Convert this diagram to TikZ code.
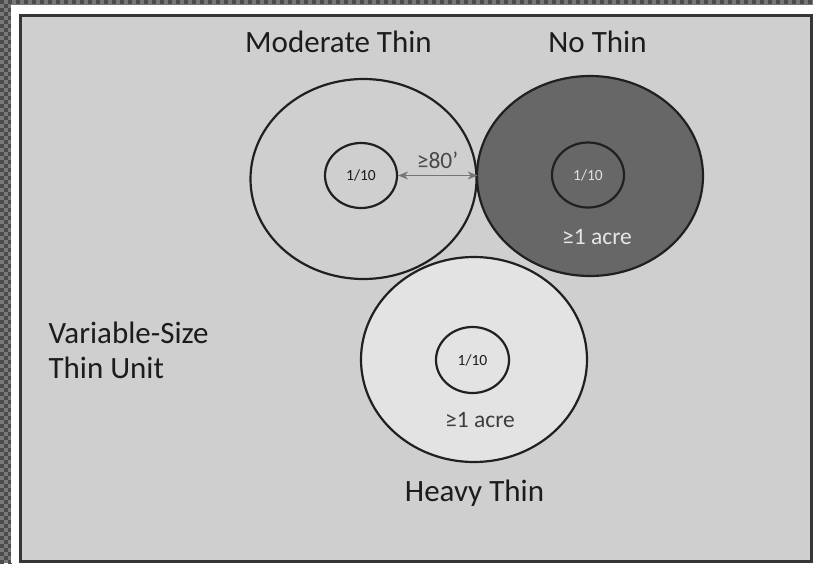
\documentclass[tikz,border=0pt]{standalone}
\usepackage{fontspec}
\setmainfont{Carlito}
\usetikzlibrary{shapes.geometric,arrows.meta}
\definecolor{bgpanel}{HTML}{CFCFCF}
\definecolor{darkfill}{HTML}{676767}
\definecolor{lightfill}{HTML}{E3E3E3}
\definecolor{ring}{HTML}{202020}
\definecolor{inktext}{HTML}{1C1C1C}
\definecolor{arrowgray}{HTML}{757575}
\definecolor{checkA}{HTML}{787878}
\definecolor{checkB}{HTML}{4C4C4C}
\tikzset{
  outerring/.style={ellipse, draw=ring, line width=2.2pt, inner sep=0pt, minimum width=226pt, minimum height=200pt},
  innerring/.style={ellipse, draw=ring, line width=2.2pt, inner sep=0pt, minimum width=72pt, minimum height=65pt},
  plotlabel/.style={font=\fontsize{15.5}{18}\selectfont, text=inktext},
  acrelabel/.style={font=\fontsize{23.5}{28}\selectfont},
  title/.style={font=\fontsize{31}{37}\selectfont, text=inktext},
  gaparrow/.style={{Stealth[length=10pt,width=8pt]}-{Stealth[length=10pt,width=8pt]}, draw=arrowgray, line width=1.4pt},
  checker/.style={fill=checkB}
}
\begin{document}
\begin{tikzpicture}[x=1pt,y=-1pt]
\useasboundingbox (0,0) rectangle (813,563);
% outer checkered frame
\fill[checkA] (0,0) rectangle (813,563);
\foreach \i in {0,...,2}{
  \foreach \j in {0,...,140}{
    \pgfmathtruncatemacro{\chkpar}{mod(\i+\j,2)}
    \ifnum\chkpar=0 \fill[checker] (\i*4,\j*4) rectangle ++(4,4);\fi
  }
}
\foreach \i in {3,...,203}{
  \pgfmathtruncatemacro{\chkpar}{mod(\i,2)}
  \ifnum\chkpar=0 \fill[checker] (\i*4,0) rectangle ++(4,4);\fi
}
\fill[white] (11,4.5) rectangle (813,563);
% panel
\fill[bgpanel] (19,14) rectangle (813,563);
\draw[ring!90, line width=3pt] (20.5,15.5) rectangle (811.5,561.5);
% circles
\node[outerring] (mo) at (363.5,179) {};
\node[outerring, fill=darkfill] (no) at (590,176) {};
\node[outerring, fill=lightfill, minimum height=205pt] (ho) at (474,359.5) {};
\node[innerring, plotlabel] (mi) at (361,175.5) {1/10};
\node[innerring, plotlabel, text=white!88!black] (ni) at (588,175) {1/10};
\node[innerring, plotlabel, minimum width=73pt, minimum height=66pt] (hi) at (472.5,360) {1/10};
% acre labels
\node[acrelabel, text=white!90!black] (na) at (597,237) {≥1 acre};
\node[acrelabel, text=inktext!85] (ha) at (480,420) {≥1 acre};
% gap arrow
\draw[gaparrow] (mi.east) -- (mi.east -| mo.east);
\node[acrelabel, text=inktext!80] (gap) at (437.5,160) {≥80’};
% titles
\node[title] (tm) at (338.5,42) {Moderate Thin};
\node[title] (tn) at (597.5,42) {No Thin};
\node[title] (th) at (474.5,493) {Heavy Thin};
\node[title, anchor=west, align=left] (tv) at (45,350) {Variable-Size\\[-2pt]Thin Unit};
\end{tikzpicture}
\end{document}
